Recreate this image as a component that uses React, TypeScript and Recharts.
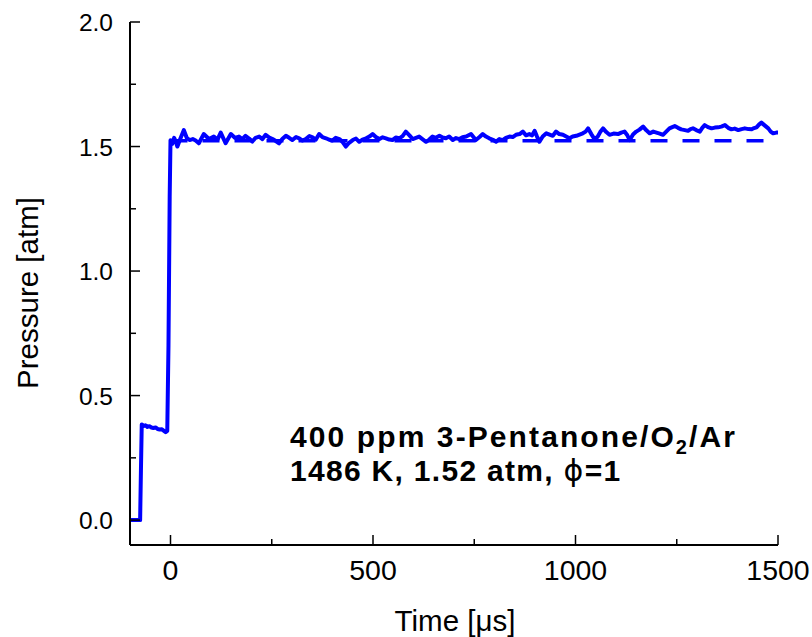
import React from 'react';
import { LineChart, Line, XAxis, YAxis } from 'recharts';

// measured pressure trace (time in µs, pressure in atm)
const traceTime = [
  -100, -80, -75, -73, -71, -66, -62, -57, -52, -47, -42, -37, -32, -27, -22, -17, -12, -8, -5, -2, 0,
  4, 9, 13, 17, 24, 33, 40, 47, 55, 62, 70, 82, 95, 107, 116, 124, 136, 149, 159, 169, 177, 185, 194,
  202, 210, 219, 227, 235, 244, 252, 260, 268, 276, 285, 293, 301, 310, 318, 326, 334, 343, 351, 359,
  367, 375, 384, 392, 400, 408, 417, 425, 433, 441, 450, 458, 466, 474, 483, 491, 499, 507, 516, 524,
  532, 540, 548, 556, 565, 573, 581, 590, 598, 606, 614, 622, 631, 639, 647, 655, 664, 672, 680, 688,
  697, 705, 713, 721, 730, 742, 754, 763, 771, 779, 787, 796, 804, 812, 820, 828, 837, 845, 853, 862,
  870, 878, 886, 893, 899, 905, 911, 919, 928, 936, 944, 952, 960, 969, 977, 985, 993, 1002, 1010, 1018,
  1025, 1031, 1039, 1047, 1055, 1061, 1068, 1076, 1084, 1094, 1105, 1113, 1121, 1128, 1134, 1142, 1150,
  1158, 1167, 1175, 1183, 1192, 1200, 1208, 1216, 1224, 1232, 1239, 1245, 1253, 1261, 1270, 1278, 1284,
  1290, 1298, 1307, 1313, 1319, 1327, 1336, 1344, 1352, 1360, 1369, 1377, 1385, 1393, 1402, 1410, 1418,
  1427, 1435, 1441, 1447, 1453, 1459, 1467, 1476, 1482, 1488, 1496, 1500,
];
const tracePressure = [
  0, 0, 0, 0.2, 0.384, 0.378, 0.381, 0.374, 0.377, 0.372, 0.37, 0.372, 0.366, 0.364, 0.365, 0.359, 0.353, 0.358, 0.7, 1.3, 1.525,
  1.51, 1.535, 1.52, 1.5, 1.53, 1.566, 1.535, 1.526, 1.53, 1.524, 1.513, 1.55, 1.53, 1.54, 1.528, 1.556, 1.513, 1.55, 1.535, 1.54, 1.53, 1.543, 1.532,
  1.52, 1.535, 1.54, 1.53, 1.547, 1.536, 1.53, 1.522, 1.513, 1.53, 1.543, 1.535, 1.526, 1.538, 1.533, 1.524, 1.53, 1.542, 1.537, 1.528,
  1.55, 1.538, 1.533, 1.527, 1.524, 1.535, 1.53, 1.518, 1.5, 1.515, 1.526, 1.532, 1.519, 1.528, 1.533, 1.54, 1.55, 1.538, 1.53, 1.537,
  1.533, 1.528, 1.526, 1.536, 1.533, 1.542, 1.56, 1.545, 1.53, 1.535, 1.54, 1.53, 1.519, 1.528, 1.54, 1.535, 1.543, 1.536, 1.533, 1.54,
  1.526, 1.534, 1.53, 1.537, 1.54, 1.55, 1.526, 1.538, 1.55, 1.54, 1.533, 1.527, 1.519, 1.53, 1.526, 1.535, 1.54, 1.538, 1.547, 1.55,
  1.56, 1.545, 1.55, 1.545, 1.563, 1.54, 1.519, 1.54, 1.553, 1.548, 1.543, 1.56, 1.55, 1.547, 1.54, 1.533, 1.54, 1.543, 1.548, 1.553,
  1.56, 1.573, 1.55, 1.53, 1.54, 1.558, 1.573, 1.558, 1.547, 1.552, 1.55, 1.556, 1.56, 1.545, 1.526, 1.548, 1.56,
  1.568, 1.58, 1.565, 1.553, 1.56, 1.556, 1.552, 1.547, 1.56, 1.573, 1.578, 1.582, 1.575, 1.569, 1.566, 1.563, 1.57,
  1.573, 1.566, 1.56, 1.575, 1.586, 1.578, 1.573, 1.576, 1.577, 1.58, 1.586, 1.575, 1.569, 1.572, 1.566, 1.57, 1.573,
  1.57, 1.569, 1.574, 1.577, 1.588, 1.596, 1.585, 1.573, 1.56, 1.553, 1.556, 1.556,
];

// constant-pressure reference (dashed)
const refTime = [0, 1500];
const refPressure = [1.523, 1.523];

const xTicks = [0, 250, 500, 750, 1000, 1250, 1500];
const xMajor = [0, 500, 1000, 1500];
const yTicks = [0, 0.25, 0.5, 0.75, 1, 1.25, 1.5, 1.75, 2];
const yMajor = [0, 0.5, 1, 1.5, 2];

const traceData = traceTime.map((t, i) => ({ t, p: tracePressure[i] }));
const refData = refTime.map((t, i) => ({ t, p: refPressure[i] }));

const FONT = '"Liberation Sans", Arial, sans-serif';
const BLUE = '#0000ff';

// chart frame
const W = 812;
const H = 637;
const M = { top: 22, right: 34, bottom: 0, left: 0 };
const Y_AXIS_W = 130;
const X_AXIS_H = 92;
const PLOT_L = M.left + Y_AXIS_W;
const PLOT_R = W - M.right;
const PLOT_T = M.top;
const PLOT_B = H - M.bottom - X_AXIS_H;

// inward ticks; the tick's position along the axis comes from the axis scale
function makeTick(side: 'bottom' | 'left' | 'top' | 'right', major: number[], showLabel: boolean) {
  return (props: any) => {
    const { x, y, payload } = props;
    const v = payload.value;
    const isMajor = major.some((m) => Math.abs(m - v) < 1e-9);
    const len = isMajor ? 10 : 6;
    let line;
    let label = null;
    if (side === 'bottom') {
      line = <line x1={x} y1={PLOT_B} x2={x} y2={PLOT_B - len} stroke="#000" strokeWidth={1.5} />;
      if (showLabel && isMajor)
        label = (
          <text x={x} y={PLOT_B + 35} textAnchor="middle" fontSize={28.5} fontFamily={FONT} fill="#000">
            {v}
          </text>
        );
    } else if (side === 'top') {
      line = <line x1={x} y1={PLOT_T} x2={x} y2={PLOT_T + len} stroke="#000" strokeWidth={1.5} />;
    } else if (side === 'left') {
      line = <line x1={PLOT_L} y1={y} x2={PLOT_L + len} y2={y} stroke="#000" strokeWidth={1.5} />;
      if (showLabel && isMajor)
        label = (
          <text x={PLOT_L - 17} y={y + 9} textAnchor="end" fontSize={24.5} fontFamily={FONT} fill="#000">
            {v.toFixed(1)}
          </text>
        );
    } else {
      line = <line x1={PLOT_R} y1={y} x2={PLOT_R - len} y2={y} stroke="#000" strokeWidth={1.5} />;
    }
    return (
      <g>
        {line}
        {label}
      </g>
    );
  };
}

export default function App() {
  return (
    <div style={{ position: 'absolute', left: 0, top: 0, width: W, height: H, background: '#fff' }}>
      <LineChart width={W} height={H} margin={M}>
        <XAxis
          xAxisId="b"
          dataKey="t"
          type="number"
          domain={[-100, 1500]}
          ticks={xTicks}
          interval={0}
          height={X_AXIS_H}
          tickSize={0}
          tickLine={false}
          axisLine={{ stroke: '#000', strokeWidth: 2 }}
          tick={makeTick('bottom', xMajor, true)}
          allowDataOverflow
        />
        <XAxis
          xAxisId="t"
          orientation="top"
          dataKey="t"
          type="number"
          domain={[-100, 1500]}
          ticks={xTicks}
          interval={0}
          height={0}
          tickSize={0}
          tickLine={false}
          axisLine={{ stroke: '#000', strokeWidth: 2 }}
          tick={makeTick('top', xMajor, false)}
        />
        <YAxis
          yAxisId="l"
          type="number"
          domain={[-0.1, 2]}
          ticks={yTicks}
          interval={0}
          width={Y_AXIS_W}
          tickSize={0}
          tickLine={false}
          axisLine={{ stroke: '#000', strokeWidth: 2 }}
          tick={makeTick('left', yMajor, true)}
          allowDataOverflow
        />
        <YAxis
          yAxisId="r"
          orientation="right"
          type="number"
          domain={[-0.1, 2]}
          ticks={yTicks}
          interval={0}
          width={0}
          tickSize={0}
          tickLine={false}
          axisLine={{ stroke: '#000', strokeWidth: 2 }}
          tick={makeTick('right', yMajor, false)}
        />
        <Line
          xAxisId="b"
          yAxisId="l"
          data={refData}
          dataKey="p"
          type="linear"
          stroke={BLUE}
          strokeWidth={3.5}
          strokeDasharray="17 15"
          dot={false}
          isAnimationActive={false}
        />
        <Line
          xAxisId="b"
          yAxisId="l"
          data={traceData}
          dataKey="p"
          type="linear"
          stroke={BLUE}
          strokeWidth={4}
          strokeLinejoin="round"
          dot={false}
          isAnimationActive={false}
        />
        <text x={455} y={631} textAnchor="middle" fontSize={29.5} fontFamily={FONT} fill="#000">
          Time [μs]
        </text>
        <text
          x={38}
          y={293}
          textAnchor="middle"
          fontSize={29.5}
          fontFamily={FONT}
          fill="#000"
          transform="rotate(-90 38 293)"
        >
          Pressure [atm]
        </text>
        <text x={290} y={447} fontSize={30} fontWeight="bold" letterSpacing={2.1} fontFamily={FONT} fill="#000">
          400 ppm 3-Pentanone/O
          <tspan fontSize={20} dy={7}>2</tspan>
          <tspan dy={-7}>/Ar</tspan>
        </text>
        <text x={290} y={481} fontSize={30} fontWeight="bold" letterSpacing={1.3} fontFamily={FONT} fill="#000">
          1486 K, 1.52 atm, <tspan fontFamily='"DejaVu Sans", sans-serif' fontWeight="normal">ϕ</tspan>=1
        </text>
      </LineChart>
    </div>
  );
}
